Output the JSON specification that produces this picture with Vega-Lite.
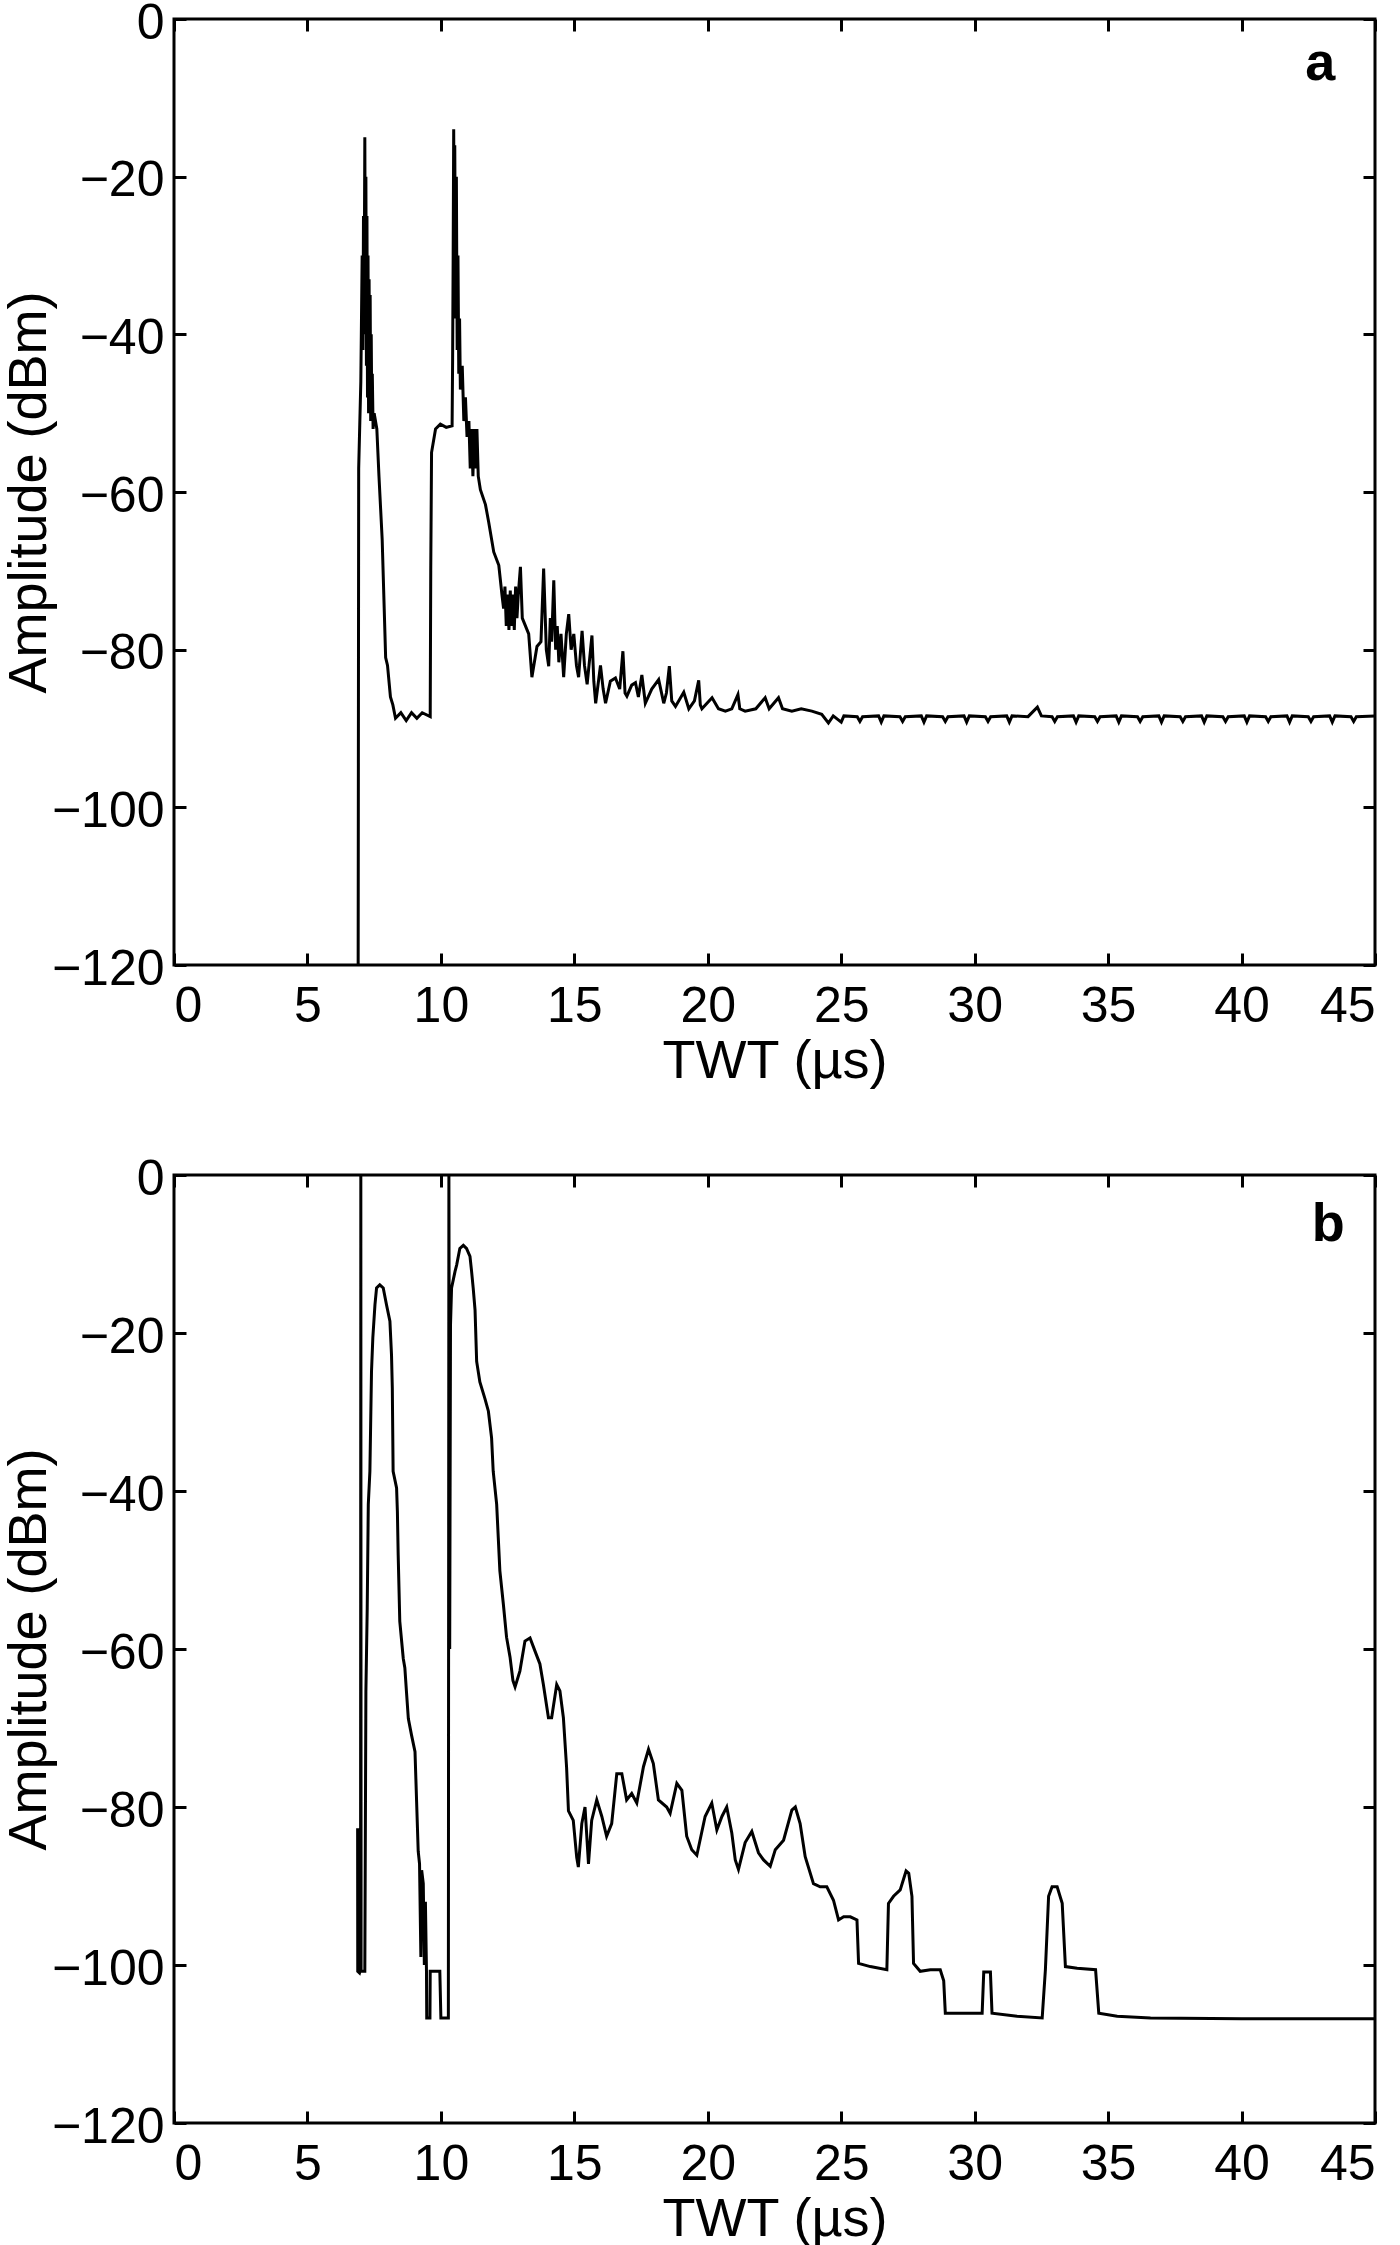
{
  "$schema": "https://vega.github.io/schema/vega-lite/v6.json",
  "background": "white",
  "padding": {"left": 0, "top": -4, "right": 0, "bottom": 0},
  "spacing": 62,
  "config": {
    "font": "Liberation Sans",
    "view": {"stroke": "black", "strokeWidth": 3},
    "axis": {
      "domain": false,
      "grid": false,
      "ticks": true,
      "tickSize": -12,
      "tickWidth": 3,
      "tickColor": "black",
      "labelFont": "Liberation Sans",
      "labelFontSize": 50,
      "labelColor": "black",
      "titleFont": "Liberation Sans",
      "titleFontSize": 54,
      "titleFontWeight": "normal",
      "titleColor": "black"
    }
  },
  "datasets": {
    "a": [
      {"t": 6.90, "dbm": -120}, {"t": 6.92, "dbm": -57}, {"t": 7.00, "dbm": -46}, {"t": 7.05, "dbm": -30},
      {"t": 7.08, "dbm": -42}, {"t": 7.10, "dbm": -25}, {"t": 7.12, "dbm": -40}, {"t": 7.15, "dbm": -15},
      {"t": 7.17, "dbm": -38}, {"t": 7.19, "dbm": -20}, {"t": 7.21, "dbm": -44}, {"t": 7.23, "dbm": -25},
      {"t": 7.25, "dbm": -48}, {"t": 7.27, "dbm": -30}, {"t": 7.29, "dbm": -50}, {"t": 7.31, "dbm": -33},
      {"t": 7.33, "dbm": -49}, {"t": 7.35, "dbm": -35}, {"t": 7.37, "dbm": -51}, {"t": 7.39, "dbm": -40},
      {"t": 7.41, "dbm": -50}, {"t": 7.43, "dbm": -45}, {"t": 7.46, "dbm": -52}, {"t": 7.50, "dbm": -50},
      {"t": 7.60, "dbm": -52}, {"t": 7.68, "dbm": -58}, {"t": 7.80, "dbm": -66}, {"t": 7.93, "dbm": -81},
      {"t": 8.00, "dbm": -82}, {"t": 8.11, "dbm": -86}, {"t": 8.20, "dbm": -87}, {"t": 8.30, "dbm": -88.7},
      {"t": 8.50, "dbm": -88}, {"t": 8.70, "dbm": -89}, {"t": 8.90, "dbm": -88}, {"t": 9.10, "dbm": -88.7},
      {"t": 9.30, "dbm": -88}, {"t": 9.60, "dbm": -88.5}, {"t": 9.62, "dbm": -70}, {"t": 9.65, "dbm": -55},
      {"t": 9.80, "dbm": -52}, {"t": 9.98, "dbm": -51.4}, {"t": 10.20, "dbm": -51.8}, {"t": 10.42, "dbm": -51.6},
      {"t": 10.44, "dbm": -43}, {"t": 10.46, "dbm": -30}, {"t": 10.48, "dbm": -14}, {"t": 10.50, "dbm": -30},
      {"t": 10.52, "dbm": -16}, {"t": 10.55, "dbm": -38}, {"t": 10.58, "dbm": -20}, {"t": 10.61, "dbm": -42},
      {"t": 10.64, "dbm": -30}, {"t": 10.67, "dbm": -45}, {"t": 10.70, "dbm": -38}, {"t": 10.73, "dbm": -47},
      {"t": 10.80, "dbm": -44}, {"t": 10.86, "dbm": -51}, {"t": 10.92, "dbm": -48}, {"t": 10.98, "dbm": -53},
      {"t": 11.05, "dbm": -51}, {"t": 11.10, "dbm": -57}, {"t": 11.15, "dbm": -52}, {"t": 11.20, "dbm": -58},
      {"t": 11.25, "dbm": -52}, {"t": 11.30, "dbm": -57}, {"t": 11.35, "dbm": -52}, {"t": 11.40, "dbm": -58},
      {"t": 11.48, "dbm": -59.7}, {"t": 11.67, "dbm": -61.6}, {"t": 11.79, "dbm": -63.8}, {"t": 11.98, "dbm": -67.6},
      {"t": 12.17, "dbm": -69.3}, {"t": 12.29, "dbm": -73.1}, {"t": 12.35, "dbm": -74.8}, {"t": 12.40, "dbm": -72},
      {"t": 12.45, "dbm": -77}, {"t": 12.50, "dbm": -73}, {"t": 12.55, "dbm": -77.5}, {"t": 12.60, "dbm": -72.5},
      {"t": 12.65, "dbm": -77}, {"t": 12.70, "dbm": -73}, {"t": 12.75, "dbm": -77.5}, {"t": 12.80, "dbm": -72},
      {"t": 12.85, "dbm": -76}, {"t": 12.90, "dbm": -73}, {"t": 12.98, "dbm": -69.5}, {"t": 13.05, "dbm": -76},
      {"t": 13.29, "dbm": -78}, {"t": 13.41, "dbm": -83.5}, {"t": 13.60, "dbm": -79.6}, {"t": 13.75, "dbm": -79},
      {"t": 13.85, "dbm": -69.7}, {"t": 13.95, "dbm": -80}, {"t": 14.04, "dbm": -82.1}, {"t": 14.10, "dbm": -76},
      {"t": 14.15, "dbm": -79}, {"t": 14.23, "dbm": -71.2}, {"t": 14.30, "dbm": -80}, {"t": 14.36, "dbm": -77},
      {"t": 14.42, "dbm": -81.6}, {"t": 14.50, "dbm": -78}, {"t": 14.60, "dbm": -83.5}, {"t": 14.70, "dbm": -78},
      {"t": 14.79, "dbm": -75.5}, {"t": 14.88, "dbm": -80}, {"t": 14.98, "dbm": -78}, {"t": 15.08, "dbm": -82},
      {"t": 15.16, "dbm": -83.5}, {"t": 15.29, "dbm": -77.6}, {"t": 15.38, "dbm": -82}, {"t": 15.48, "dbm": -84.4},
      {"t": 15.66, "dbm": -78.2}, {"t": 15.73, "dbm": -84}, {"t": 15.80, "dbm": -86.8}, {"t": 15.98, "dbm": -82},
      {"t": 16.08, "dbm": -85}, {"t": 16.17, "dbm": -86.8}, {"t": 16.35, "dbm": -84}, {"t": 16.54, "dbm": -83.6},
      {"t": 16.70, "dbm": -85}, {"t": 16.82, "dbm": -80.2}, {"t": 16.90, "dbm": -85.5}, {"t": 16.97, "dbm": -85.9},
      {"t": 17.15, "dbm": -84.5}, {"t": 17.29, "dbm": -84.2}, {"t": 17.40, "dbm": -86}, {"t": 17.53, "dbm": -83.2},
      {"t": 17.66, "dbm": -86.8}, {"t": 17.90, "dbm": -85}, {"t": 18.16, "dbm": -83.8}, {"t": 18.35, "dbm": -86.8},
      {"t": 18.45, "dbm": -85.5}, {"t": 18.56, "dbm": -82.1}, {"t": 18.65, "dbm": -86.5}, {"t": 18.79, "dbm": -87.2},
      {"t": 19.10, "dbm": -85.4}, {"t": 19.29, "dbm": -87.5}, {"t": 19.50, "dbm": -86.5}, {"t": 19.66, "dbm": -83.9},
      {"t": 19.72, "dbm": -87}, {"t": 19.78, "dbm": -87.5}, {"t": 20.16, "dbm": -86.1}, {"t": 20.40, "dbm": -87.5},
      {"t": 20.66, "dbm": -87.8}, {"t": 20.90, "dbm": -87.5}, {"t": 21.13, "dbm": -85.7}, {"t": 21.20, "dbm": -87.5},
      {"t": 21.40, "dbm": -87.8}, {"t": 21.80, "dbm": -87.5}, {"t": 22.15, "dbm": -86.1}, {"t": 22.30, "dbm": -87.5},
      {"t": 22.65, "dbm": -86.1}, {"t": 22.80, "dbm": -87.5}, {"t": 23.15, "dbm": -87.8}, {"t": 23.50, "dbm": -87.5},
      {"t": 23.90, "dbm": -87.8}, {"t": 24.27, "dbm": -88.2}, {"t": 24.52, "dbm": -89.3}, {"t": 24.70, "dbm": -88.4},
      {"t": 25.00, "dbm": -89.2}, {"t": 25.10, "dbm": -88.4}, {"t": 25.60, "dbm": -88.5}, {"t": 25.70, "dbm": -89.1},
      {"t": 25.80, "dbm": -88.5}, {"t": 26.40, "dbm": -88.4}, {"t": 26.50, "dbm": -89.2}, {"t": 26.60, "dbm": -88.4},
      {"t": 27.20, "dbm": -88.5}, {"t": 27.30, "dbm": -89.1}, {"t": 27.40, "dbm": -88.5}, {"t": 28.00, "dbm": -88.4},
      {"t": 28.10, "dbm": -89.2}, {"t": 28.20, "dbm": -88.4}, {"t": 28.80, "dbm": -88.5}, {"t": 28.90, "dbm": -89.1},
      {"t": 29.00, "dbm": -88.5}, {"t": 29.60, "dbm": -88.4}, {"t": 29.70, "dbm": -89.2}, {"t": 29.80, "dbm": -88.4},
      {"t": 30.40, "dbm": -88.5}, {"t": 30.50, "dbm": -89.1}, {"t": 30.60, "dbm": -88.5}, {"t": 31.20, "dbm": -88.4},
      {"t": 31.30, "dbm": -89.2}, {"t": 31.40, "dbm": -88.4}, {"t": 32.00, "dbm": -88.5}, {"t": 32.35, "dbm": -87.3},
      {"t": 32.50, "dbm": -88.4}, {"t": 32.90, "dbm": -88.5}, {"t": 33.00, "dbm": -89.1}, {"t": 33.10, "dbm": -88.5},
      {"t": 33.70, "dbm": -88.4}, {"t": 33.80, "dbm": -89.2}, {"t": 33.90, "dbm": -88.4}, {"t": 34.50, "dbm": -88.5},
      {"t": 34.60, "dbm": -89.1}, {"t": 34.70, "dbm": -88.5}, {"t": 35.30, "dbm": -88.4}, {"t": 35.40, "dbm": -89.2},
      {"t": 35.50, "dbm": -88.4}, {"t": 36.10, "dbm": -88.5}, {"t": 36.20, "dbm": -89.1}, {"t": 36.30, "dbm": -88.5},
      {"t": 36.90, "dbm": -88.4}, {"t": 37.00, "dbm": -89.2}, {"t": 37.10, "dbm": -88.4}, {"t": 37.70, "dbm": -88.5},
      {"t": 37.80, "dbm": -89.1}, {"t": 37.90, "dbm": -88.5}, {"t": 38.50, "dbm": -88.4}, {"t": 38.60, "dbm": -89.2},
      {"t": 38.70, "dbm": -88.4}, {"t": 39.30, "dbm": -88.5}, {"t": 39.40, "dbm": -89.1}, {"t": 39.50, "dbm": -88.5},
      {"t": 40.10, "dbm": -88.4}, {"t": 40.20, "dbm": -89.2}, {"t": 40.30, "dbm": -88.4}, {"t": 40.90, "dbm": -88.5},
      {"t": 41.00, "dbm": -89.1}, {"t": 41.10, "dbm": -88.5}, {"t": 41.70, "dbm": -88.4}, {"t": 41.80, "dbm": -89.2},
      {"t": 41.90, "dbm": -88.4}, {"t": 42.50, "dbm": -88.5}, {"t": 42.60, "dbm": -89.1}, {"t": 42.70, "dbm": -88.5},
      {"t": 43.30, "dbm": -88.4}, {"t": 43.40, "dbm": -89.2}, {"t": 43.50, "dbm": -88.4}, {"t": 44.10, "dbm": -88.5},
      {"t": 44.20, "dbm": -89.1}, {"t": 44.30, "dbm": -88.5}, {"t": 45.00, "dbm": -88.4}
    ],
    "b": [
      {"t": 6.880, "dbm": -82.7}, {"t": 6.885, "dbm": -100.8}, {"t": 6.950, "dbm": -101}, {"t": 6.990, "dbm": -100.5},
      {"t": 7.000, "dbm": 0}, {"t": 7.010, "dbm": -100.8}, {"t": 7.150, "dbm": -100.8}, {"t": 7.19, "dbm": -65.4},
      {"t": 7.24, "dbm": -54.8}, {"t": 7.28, "dbm": -41.7}, {"t": 7.34, "dbm": -37.5}, {"t": 7.40, "dbm": -24.9},
      {"t": 7.45, "dbm": -20.6}, {"t": 7.53, "dbm": -16.4}, {"t": 7.59, "dbm": -14.3}, {"t": 7.71, "dbm": -13.9},
      {"t": 7.84, "dbm": -14.3}, {"t": 7.96, "dbm": -16.4}, {"t": 8.09, "dbm": -18.5}, {"t": 8.15, "dbm": -22.8},
      {"t": 8.18, "dbm": -27}, {"t": 8.21, "dbm": -37.5}, {"t": 8.34, "dbm": -39.6}, {"t": 8.37, "dbm": -42.6},
      {"t": 8.40, "dbm": -48.1}, {"t": 8.46, "dbm": -56.5}, {"t": 8.59, "dbm": -61.2}, {"t": 8.65, "dbm": -62.4},
      {"t": 8.71, "dbm": -65.4}, {"t": 8.78, "dbm": -68.8}, {"t": 8.90, "dbm": -70.9}, {"t": 9.03, "dbm": -73},
      {"t": 9.09, "dbm": -79.3}, {"t": 9.15, "dbm": -85.6}, {"t": 9.20, "dbm": -87.2}, {"t": 9.25, "dbm": -99},
      {"t": 9.28, "dbm": -88}, {"t": 9.34, "dbm": -89.7}, {"t": 9.38, "dbm": -100}, {"t": 9.42, "dbm": -92},
      {"t": 9.46, "dbm": -100.8}, {"t": 9.47, "dbm": -106.7}, {"t": 9.59, "dbm": -106.7}, {"t": 9.60, "dbm": -100.8},
      {"t": 9.96, "dbm": -100.8}, {"t": 10.00, "dbm": -106.7}, {"t": 10.28, "dbm": -106.7}, {"t": 10.30, "dbm": 0},
      {"t": 10.33, "dbm": -60}, {"t": 10.36, "dbm": -19}, {"t": 10.40, "dbm": -14.3}, {"t": 10.53, "dbm": -12.2},
      {"t": 10.59, "dbm": -11.4}, {"t": 10.71, "dbm": -9.3}, {"t": 10.84, "dbm": -8.9}, {"t": 10.96, "dbm": -9.3},
      {"t": 11.09, "dbm": -10.3}, {"t": 11.15, "dbm": -12.2}, {"t": 11.21, "dbm": -14.3}, {"t": 11.28, "dbm": -17.1},
      {"t": 11.34, "dbm": -23.6}, {"t": 11.46, "dbm": -26.2}, {"t": 11.65, "dbm": -28.3}, {"t": 11.78, "dbm": -29.9},
      {"t": 11.90, "dbm": -33.3}, {"t": 11.96, "dbm": -37.5}, {"t": 12.09, "dbm": -41.7}, {"t": 12.15, "dbm": -45.9},
      {"t": 12.21, "dbm": -50.1}, {"t": 12.34, "dbm": -54.3}, {"t": 12.46, "dbm": -58.5}, {"t": 12.59, "dbm": -61},
      {"t": 12.70, "dbm": -64}, {"t": 12.78, "dbm": -64.8}, {"t": 12.96, "dbm": -62.8}, {"t": 13.15, "dbm": -59},
      {"t": 13.34, "dbm": -58.6}, {"t": 13.53, "dbm": -60.3}, {"t": 13.71, "dbm": -61.9}, {"t": 13.84, "dbm": -64.5},
      {"t": 14.03, "dbm": -68.7}, {"t": 14.15, "dbm": -68.7}, {"t": 14.34, "dbm": -64.5}, {"t": 14.46, "dbm": -65.3},
      {"t": 14.59, "dbm": -68.7}, {"t": 14.71, "dbm": -75}, {"t": 14.78, "dbm": -80.5}, {"t": 14.96, "dbm": -81.7},
      {"t": 15.09, "dbm": -86.4}, {"t": 15.15, "dbm": -87.6}, {"t": 15.28, "dbm": -82.1}, {"t": 15.40, "dbm": -80},
      {"t": 15.53, "dbm": -87.2}, {"t": 15.65, "dbm": -81.7}, {"t": 15.84, "dbm": -79.1}, {"t": 16.03, "dbm": -81.2},
      {"t": 16.21, "dbm": -83.7}, {"t": 16.40, "dbm": -82.1}, {"t": 16.59, "dbm": -75.8}, {"t": 16.78, "dbm": -75.8},
      {"t": 16.96, "dbm": -79.1}, {"t": 17.15, "dbm": -78.3}, {"t": 17.34, "dbm": -79.5}, {"t": 17.59, "dbm": -74.9},
      {"t": 17.78, "dbm": -72.7}, {"t": 17.96, "dbm": -74.5}, {"t": 18.15, "dbm": -79.1}, {"t": 18.46, "dbm": -80},
      {"t": 18.59, "dbm": -80.8}, {"t": 18.84, "dbm": -77}, {"t": 19.03, "dbm": -77.9}, {"t": 19.21, "dbm": -83.7},
      {"t": 19.40, "dbm": -85.4}, {"t": 19.59, "dbm": -86.1}, {"t": 19.90, "dbm": -81.2}, {"t": 20.15, "dbm": -79.5},
      {"t": 20.34, "dbm": -82.9}, {"t": 20.53, "dbm": -81.2}, {"t": 20.71, "dbm": -80}, {"t": 20.90, "dbm": -83.3},
      {"t": 21.03, "dbm": -86.7}, {"t": 21.15, "dbm": -87.9}, {"t": 21.40, "dbm": -84.5}, {"t": 21.65, "dbm": -83.1},
      {"t": 21.90, "dbm": -85.8}, {"t": 22.09, "dbm": -86.7}, {"t": 22.34, "dbm": -87.5}, {"t": 22.53, "dbm": -85.4},
      {"t": 22.84, "dbm": -84.2}, {"t": 23.15, "dbm": -80.4}, {"t": 23.28, "dbm": -80}, {"t": 23.46, "dbm": -82.1},
      {"t": 23.65, "dbm": -86.3}, {"t": 23.96, "dbm": -89.7}, {"t": 24.21, "dbm": -90.1}, {"t": 24.46, "dbm": -90.1},
      {"t": 24.71, "dbm": -91.8}, {"t": 24.90, "dbm": -94.3}, {"t": 25.09, "dbm": -93.9}, {"t": 25.34, "dbm": -93.9},
      {"t": 25.59, "dbm": -94.3}, {"t": 25.65, "dbm": -99.8}, {"t": 26.09, "dbm": -100.2}, {"t": 26.71, "dbm": -100.6},
      {"t": 26.77, "dbm": -92.2}, {"t": 26.96, "dbm": -91.3}, {"t": 27.21, "dbm": -90.5}, {"t": 27.43, "dbm": -88.1},
      {"t": 27.53, "dbm": -88.4}, {"t": 27.65, "dbm": -91.3}, {"t": 27.71, "dbm": -99.8}, {"t": 27.96, "dbm": -100.8},
      {"t": 28.34, "dbm": -100.6}, {"t": 28.71, "dbm": -100.6}, {"t": 28.84, "dbm": -102}, {"t": 28.90, "dbm": -106.1},
      {"t": 30.28, "dbm": -106.1}, {"t": 30.34, "dbm": -100.9}, {"t": 30.59, "dbm": -100.9}, {"t": 30.65, "dbm": -106.1},
      {"t": 31.59, "dbm": -106.5}, {"t": 32.53, "dbm": -106.7}, {"t": 32.65, "dbm": -100.6}, {"t": 32.77, "dbm": -91.3},
      {"t": 32.90, "dbm": -90.1}, {"t": 33.09, "dbm": -90.1}, {"t": 33.28, "dbm": -92.2}, {"t": 33.40, "dbm": -100.2},
      {"t": 33.84, "dbm": -100.4}, {"t": 34.53, "dbm": -100.6}, {"t": 34.65, "dbm": -106.1}, {"t": 35.34, "dbm": -106.5},
      {"t": 36.59, "dbm": -106.7}, {"t": 40.00, "dbm": -106.8}, {"t": 45.00, "dbm": -106.8}
    ],
    "labelA": [{"t": 42.95, "dbm": -7.8, "label": "a"}],
    "labelB": [{"t": 43.25, "dbm": -8.3, "label": "b"}]
  },
  "vconcat": [
    {
      "width": 1201,
      "height": 946,
      "layer": [
        {
          "data": {"name": "a"},
          "mark": {"type": "line", "color": "black", "strokeWidth": 3, "clip": true},
          "encoding": {
            "x": {"field": "t", "type": "quantitative", "scale": {"domain": [0, 45], "nice": false, "zero": false},
                  "axis": {"orient": "bottom", "values": [0, 5, 10, 15, 20, 25, 30, 35, 40, 45], "title": "TWT (µs)", "labelPadding": 28, "titlePadding": 3}},
            "y": {"field": "dbm", "type": "quantitative", "scale": {"domain": [-120, 0], "nice": false, "zero": false},
                  "axis": {"orient": "left", "values": [0, -20, -40, -60, -80, -100, -120], "title": "Amplitude (dBm)", "labelPadding": 22, "labelOffset": 4, "titlePadding": -5}}
          }
        },
        {
          "data": {"name": "labelA"},
          "mark": {"type": "text", "fontSize": 54, "fontWeight": "bold", "align": "center", "baseline": "alphabetic", "color": "black"},
          "encoding": {
            "x": {"field": "t", "type": "quantitative", "axis": {"orient": "top", "labels": false, "title": null, "values": [0, 5, 10, 15, 20, 25, 30, 35, 40, 45]}},
            "y": {"field": "dbm", "type": "quantitative", "axis": {"orient": "right", "labels": false, "title": null, "values": [0, -20, -40, -60, -80, -100, -120]}},
            "text": {"field": "label"}
          }
        }
      ],
      "resolve": {"axis": {"x": "independent", "y": "independent"}}
    },
    {
      "width": 1201,
      "height": 948,
      "layer": [
        {
          "data": {"name": "b"},
          "mark": {"type": "line", "color": "black", "strokeWidth": 3, "clip": true},
          "encoding": {
            "x": {"field": "t", "type": "quantitative", "scale": {"domain": [0, 45], "nice": false, "zero": false},
                  "axis": {"orient": "bottom", "values": [0, 5, 10, 15, 20, 25, 30, 35, 40, 45], "title": "TWT (µs)", "labelPadding": 28, "titlePadding": 3}},
            "y": {"field": "dbm", "type": "quantitative", "scale": {"domain": [-120, 0], "nice": false, "zero": false},
                  "axis": {"orient": "left", "values": [0, -20, -40, -60, -80, -100, -120], "title": "Amplitude (dBm)", "labelPadding": 22, "labelOffset": 4, "titlePadding": -5}}
          }
        },
        {
          "data": {"name": "labelB"},
          "mark": {"type": "text", "fontSize": 54, "fontWeight": "bold", "align": "center", "baseline": "alphabetic", "color": "black"},
          "encoding": {
            "x": {"field": "t", "type": "quantitative", "axis": {"orient": "top", "labels": false, "title": null, "values": [0, 5, 10, 15, 20, 25, 30, 35, 40, 45]}},
            "y": {"field": "dbm", "type": "quantitative", "axis": {"orient": "right", "labels": false, "title": null, "values": [0, -20, -40, -60, -80, -100, -120]}},
            "text": {"field": "label"}
          }
        }
      ],
      "resolve": {"axis": {"x": "independent", "y": "independent"}}
    }
  ]
}
